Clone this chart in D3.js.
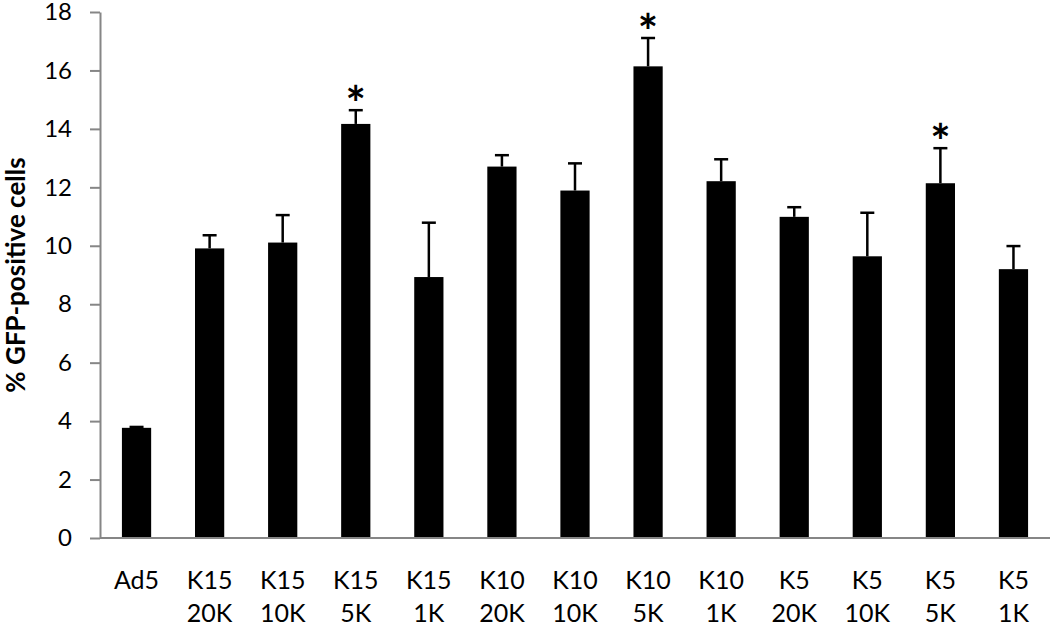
<!DOCTYPE html>
<html>
<head>
<meta charset="utf-8">
<script src="https://cdn.jsdelivr.net/npm/d3@7"></script>
<style>
  body { margin: 0; background: #fff; }
  svg { display: block; font-family: Lato, "Open Sans", sans-serif; }
</style>
</head>
<body>
<div id="chart"></div>
<script>
// groups: vector name + dose (second label line)
var vectors = ["Ad5", "K15", "K15", "K15", "K15", "K10", "K10", "K10", "K10", "K5", "K5", "K5", "K5"];
var doses = ["", "20K", "10K", "5K", "1K", "20K", "10K", "5K", "1K", "20K", "10K", "5K", "1K"];
var means = [3.77, 9.91, 10.11, 14.17, 8.93, 12.71, 11.89, 16.14, 12.21, 10.99, 9.64, 12.14, 9.20];
var errors = [0.03, 0.45, 0.94, 0.47, 1.86, 0.39, 0.93, 0.97, 0.75, 0.33, 1.49, 1.20, 0.79];
var significant = [false, false, false, true, false, false, false, true, false, false, false, true, false];
var yTicks = [0, 2, 4, 6, 8, 10, 12, 14, 16, 18];

var width = 1050, height = 628;
var margin = { top: 12, right: 0, bottom: 90, left: 100 };

var data = means.map(function(m, i) {
    return { id: i, vector: vectors[i], dose: doses[i], mean: m, err: errors[i], sig: significant[i] };
});

var svg = d3.select("#chart").append("svg")
    .attr("width", width)
    .attr("height", height);

var x = d3.scaleBand()
    .domain(data.map(d => d.id))
    .range([margin.left, width - margin.right])
    .paddingInner(0.6)
    .paddingOuter(0.3);

var y = d3.scaleLinear()
    .domain([0, 18])
    .range([height - margin.bottom, margin.top]);

// y axis
var yAxis = svg.append("g")
    .attr("transform", "translate(" + margin.left + ",0)")
    .call(d3.axisLeft(y).tickValues(yTicks).tickSize(10).tickPadding(18).tickSizeOuter(0));
yAxis.select(".domain").attr("stroke", "#868686").attr("stroke-width", 2);
yAxis.selectAll(".tick line").attr("stroke", "#868686").attr("stroke-width", 2);
yAxis.selectAll(".tick text")
    .attr("fill", "#000")
    .style("font-size", "24px")
    .style("font-family", "Lato, 'Open Sans', sans-serif");

// bars
svg.selectAll(".bar")
    .data(data)
    .enter()
    .append("rect")
    .attr("class", "bar")
    .attr("x", d => x(d.id))
    .attr("width", x.bandwidth())
    .attr("y", d => y(d.mean))
    .attr("height", d => y(0) - y(d.mean))
    .attr("fill", "#000");

// x axis line
svg.append("line")
    .attr("x1", margin.left)
    .attr("x2", width)
    .attr("y1", y(0))
    .attr("y2", y(0))
    .attr("stroke", "#868686")
    .attr("stroke-width", 2);

// error bars (upper only)
var cx = d => x(d.id) + x.bandwidth() / 2;
svg.selectAll(".err")
    .data(data)
    .enter()
    .append("line")
    .attr("x1", cx).attr("x2", cx)
    .attr("y1", d => y(d.mean))
    .attr("y2", d => y(d.mean + d.err))
    .attr("stroke", "#000")
    .attr("stroke-width", 2.5);

svg.selectAll(".cap")
    .data(data)
    .enter()
    .append("line")
    .attr("x1", d => cx(d) - 7).attr("x2", d => cx(d) + 7)
    .attr("y1", d => y(d.mean + d.err))
    .attr("y2", d => y(d.mean + d.err))
    .attr("stroke", "#000")
    .attr("stroke-width", 2.5);

// significance stars
svg.selectAll(".star")
    .data(data.filter(d => d.sig))
    .enter()
    .append("text")
    .attr("x", cx)
    .attr("y", d => y(d.mean + d.err) + 11)
    .attr("text-anchor", "middle")
    .style("font-size", "48px")
    .style("font-weight", "bold")
    .text("*");

// category labels
var labels = svg.selectAll(".cat")
    .data(data)
    .enter()
    .append("text")
    .attr("text-anchor", "middle")
    .style("font-size", "25px");
labels.append("tspan")
    .attr("x", cx)
    .attr("y", 589)
    .text(d => d.vector);
labels.append("tspan")
    .attr("x", cx)
    .attr("y", 622)
    .text(d => d.dose);

// y title
svg.append("text")
    .attr("transform", "translate(25," + ((margin.top + y(0)) / 2) + ") rotate(-90)")
    .attr("text-anchor", "middle")
    .style("font-size", "26px")
    .style("font-weight", "bold")
    .text("% GFP-positive cells");
</script>
</body>
</html>
